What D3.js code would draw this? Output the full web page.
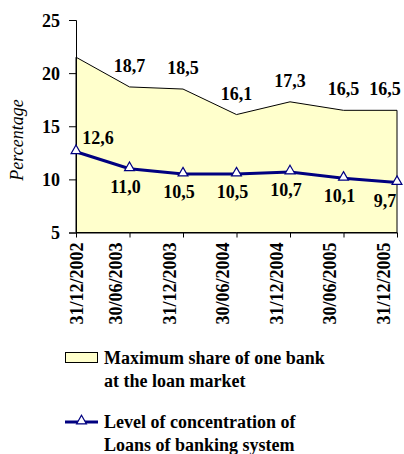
<!DOCTYPE html>
<html>
<head>
<meta charset="utf-8">
<script src="https://cdn.jsdelivr.net/npm/d3@7"></script>
</head>
<body style="margin:0; background:#fff">
<svg width="404" height="454"></svg>
<script>
// chart data
var dates = ["31/12/2002", "30/06/2003", "31/12/2003", "30/06/2004", "31/12/2004", "30/06/2005", "31/12/2005"];
var maxShare = [21.5, 18.7, 18.5, 16.1, 17.3, 16.5, 16.5];
var concentration = [12.6, 11.0, 10.5, 10.5, 10.7, 10.1, 9.7];
var yTicks = [5, 10, 15, 20, 25];
var legendLabels = [
    ["Maximum share of one bank", "at the loan market"],
    ["Level of concentration of", "Loans of banking system"]
];

var svg = d3.select("svg");
var W = 404;

var x = d3.scalePoint().domain(dates).range([76, 397]);
var y = d3.scaleLinear().domain([5, 25]).range([232.5, 20]);

function fmt(v)
{
    return v.toFixed(1).replace(".", ",");
}

function clampX(px)
{
    // keep labels inside the window
    return Math.min(px, W - 19);
}

// area series
var area = d3.area()
    .x(function(d, i) { return x(dates[i]); })
    .y0(y(5))
    .y1(function(d) { return y(d); });

svg.append("path")
    .datum(maxShare)
    .attr("d", area)
    .attr("fill", "#ffffcc")
    .attr("stroke", "#000")
    .attr("stroke-width", 1);

// axes
var yAxis = svg.append("g")
    .attr("transform", "translate(" + x(dates[0]) + ",0)")
    .call(d3.axisLeft(y).tickValues(yTicks).tickSize(7).tickPadding(9).tickFormat(d3.format("d")));
yAxis.select(".domain").attr("stroke", "#000");
yAxis.selectAll("text").attr("dy", "0.35em");

var xAxis = svg.append("g")
    .attr("transform", "translate(0," + y(5) + ")")
    .call(d3.axisBottom(x).tickSize(5).tickSizeOuter(0));
xAxis.select(".domain").attr("stroke", "#000");
xAxis.selectAll("text")
    .attr("text-anchor", "end")
    .attr("transform", function(d, i) { return "translate(" + (i === 0 ? 6 : -8) + ",10) rotate(-90)"; })
    .attr("x", 0)
    .attr("y", 0)
    .attr("dy", 0);

// y title
svg.append("text")
    .attr("class", "ytitle")
    .attr("transform", "translate(23,140) rotate(-90)")
    .attr("text-anchor", "middle")
    .text("Percentage");

// area value labels (first point carries none)
svg.selectAll("text.share")
    .data(d3.range(1, maxShare.length))
    .enter().append("text")
    .attr("class", "share")
    .attr("text-anchor", "middle")
    .attr("x", function(i) { return clampX(x(dates[i])); })
    .attr("y", function(i) { return y(maxShare[i]) - 15; })
    .text(function(i) { return fmt(maxShare[i]); });

// concentration line
var line = d3.line()
    .x(function(d, i) { return x(dates[i]); })
    .y(function(d) { return y(d); });

svg.append("path")
    .datum(concentration)
    .attr("d", line)
    .attr("fill", "none")
    .attr("stroke", "#000080")
    .attr("stroke-width", 3);

var tri = d3.symbol().type(d3.symbolTriangle).size(42);

svg.selectAll("path.marker")
    .data(concentration)
    .enter().append("path")
    .attr("class", "marker")
    .attr("d", tri)
    .attr("transform", function(d, i) { return "translate(" + x(dates[i]) + "," + (y(d) - 1) + ")"; })
    .attr("fill", "#fff")
    .attr("stroke", "#000080")
    .attr("stroke-width", 1.2);

svg.selectAll("text.conc")
    .data(concentration)
    .enter().append("text")
    .attr("class", "conc")
    .attr("text-anchor", "middle")
    .attr("x", function(d, i) { return i === 0 ? x(dates[i]) + 22 : clampX(x(dates[i]) - 4); })
    .attr("y", function(d, i) { return i === 0 ? y(d) - 8 : y(d) + 24; })
    .text(fmt);

// legend
var leg = svg.append("g");

leg.append("rect")
    .attr("x", 65.5).attr("y", 352.5)
    .attr("width", 32).attr("height", 10)
    .attr("fill", "#ffffcc")
    .attr("stroke", "#000")
    .attr("stroke-width", 1);

leg.append("line")
    .attr("x1", 65).attr("x2", 98)
    .attr("y1", 422).attr("y2", 422)
    .attr("stroke", "#000080")
    .attr("stroke-width", 3);

leg.append("path")
    .attr("d", tri)
    .attr("transform", "translate(81.5,421)")
    .attr("fill", "#fff")
    .attr("stroke", "#000080")
    .attr("stroke-width", 1.2);

legendLabels.forEach(function(lines, k)
{
    var t = leg.append("text")
        .attr("x", 104)
        .attr("y", k === 0 ? 364 : 428);
    lines.forEach(function(s, j)
    {
        t.append("tspan")
            .attr("x", 104)
            .attr("dy", j === 0 ? 0 : 22.5)
            .text(s);
    });
});

// one font for every text, set on each element
svg.selectAll("text")
    .attr("font-family", "Liberation Serif")
    .attr("font-weight", "bold")
    .attr("font-size", 18)
    .attr("fill", "#000");

svg.select("text.ytitle")
    .attr("font-weight", "normal")
    .attr("font-style", "italic");
</script>
</body>
</html>
